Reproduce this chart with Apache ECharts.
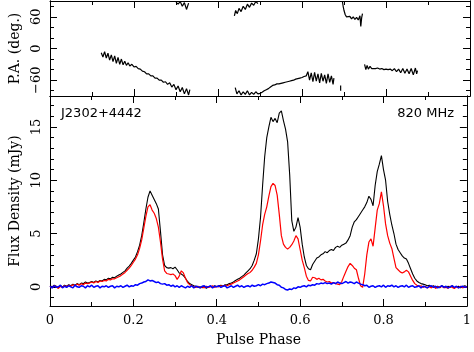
<!DOCTYPE html>
<html>
<head>
<meta charset="utf-8">
<script src="https://cdn.jsdelivr.net/npm/echarts@6/dist/echarts.min.js"></script>
<style>html,body{margin:0;padding:0;background:#fff}#c{width:474px;height:352px}</style>
</head>
<body>
<div id="c"></div>
<script>
// ---- data ----
const nBins = 200; // flux profile sampled every 0.005 in phase
const totalI = [
0.1,0.0,0.15,0.05,-0.1,0.1,0.0,0.15,0.05,0.2,0.1,0.25,0.15,0.3,0.2,0.35,0.3,0.45,0.35,0.4,
0.5,0.4,0.55,0.45,0.6,0.55,0.7,0.65,0.8,0.75,0.9,0.85,1.0,1.1,1.2,1.35,1.5,1.75,1.95,2.2,
2.5,2.8,3.3,3.9,4.8,6.0,7.3,8.4,9.0,8.6,8.2,7.8,7.3,5.2,3.0,2.0,1.8,1.75,1.8,1.7,
1.85,1.6,1.3,1.2,1.05,0.8,0.5,0.3,0.2,0.1,0.05,-0.05,0.0,-0.1,0.05,-0.15,0.0,0.05,-0.05,0.1,
0.0,0.1,0.15,0.05,0.2,0.2,0.3,0.35,0.45,0.6,0.7,0.8,0.95,1.1,1.3,1.5,1.7,2.0,2.5,3.1,
4.5,6.5,9.5,12.2,14.0,15.0,15.9,15.5,15.8,15.4,16.3,16.5,15.6,14.8,13.6,10.5,6.2,5.2,5.6,6.5,
5.6,4.0,2.8,2.0,1.7,1.6,2.1,2.4,2.7,2.8,3.0,3.1,3.3,3.2,3.4,3.5,3.4,3.7,3.8,3.7,
3.9,4.0,4.1,4.4,4.8,5.6,6.1,6.3,6.6,6.9,7.2,7.5,7.9,8.5,8.2,7.6,9.5,10.8,11.5,12.3,
11.0,10.0,8.0,6.8,5.8,5.0,4.0,3.5,3.2,2.9,2.7,2.6,2.2,1.7,1.2,0.8,0.55,0.4,0.3,0.25,
0.2,0.1,0.15,0.0,0.1,-0.05,0.05,-0.1,0.1,0.0,-0.1,0.05,-0.05,0.1,-0.1,0.0,0.05,-0.1,0.0,0.1,
0.0];
const linearL = [
0.05,-0.1,0.1,0.0,-0.15,0.05,-0.05,0.1,0.0,0.15,0.05,0.2,0.1,0.25,0.15,0.3,0.2,0.35,0.3,0.35,
0.45,0.35,0.5,0.4,0.55,0.5,0.6,0.55,0.7,0.65,0.75,0.75,0.85,0.95,1.05,1.2,1.35,1.55,1.75,2.0,
2.3,2.6,3.0,3.6,4.4,5.5,6.6,7.5,7.7,7.2,6.9,6.4,5.6,4.2,2.6,1.5,1.25,1.2,1.15,1.2,
1.05,0.7,1.0,1.5,1.3,0.8,0.4,0.2,0.1,0.0,-0.05,0.05,-0.1,0.0,-0.1,0.05,-0.05,0.0,0.1,-0.05,
0.05,0.0,0.1,0.05,0.15,0.1,0.2,0.25,0.35,0.45,0.55,0.65,0.8,0.95,1.1,1.25,1.35,1.55,1.85,2.2,
3.0,4.3,5.8,6.8,7.5,8.5,9.4,9.7,9.5,8.6,6.8,4.8,4.0,3.7,3.55,3.7,3.95,4.3,4.8,4.5,
3.5,2.5,1.8,1.0,0.6,0.55,0.9,0.85,0.7,0.8,0.65,0.7,0.55,0.45,0.5,0.35,0.4,0.3,0.25,0.2,
0.5,1.0,1.45,1.9,2.2,2.0,1.75,1.6,0.8,0.1,-0.05,1.2,3.0,4.2,4.5,3.8,5.5,7.2,7.8,8.9,
7.6,5.9,4.8,4.1,3.6,2.7,1.8,1.6,1.4,1.3,1.4,1.55,1.4,1.0,0.6,0.3,0.15,0.05,0.1,-0.05,
0.05,-0.1,0.0,-0.1,0.05,-0.15,0.0,-0.05,0.05,-0.1,0.0,-0.15,0.05,-0.05,-0.15,0.0,-0.1,0.05,-0.1,0.0,
-0.05];
const circularV = [
0.05,-0.1,0.1,-0.05,0.0,0.15,-0.1,0.05,-0.05,0.1,0.0,-0.1,0.15,0.0,-0.05,0.1,0.05,-0.1,0.1,0.0,
0.15,-0.05,0.05,0.1,-0.1,0.05,0.0,0.1,-0.05,0.05,0.1,-0.1,0.05,0.0,0.1,-0.05,0.05,0.15,0.0,0.1,
0.05,0.2,0.15,0.3,0.35,0.45,0.5,0.65,0.55,0.6,0.5,0.4,0.45,0.3,0.25,0.3,0.15,0.2,0.05,0.15,
0.0,0.1,-0.05,0.1,0.0,-0.1,0.05,-0.05,0.1,-0.1,0.05,0.0,-0.1,0.05,0.1,-0.05,0.0,0.1,-0.1,0.05,
0.0,0.1,-0.05,0.05,0.1,-0.1,0.0,0.1,-0.05,0.05,0.15,0.0,0.1,-0.05,0.05,0.1,0.0,0.15,0.05,0.1,
0.2,0.1,0.25,0.2,0.3,0.35,0.45,0.4,0.35,0.2,0.15,-0.05,-0.1,-0.25,-0.3,-0.2,-0.25,-0.1,-0.15,0.0,
-0.05,0.05,0.1,0.0,0.15,0.1,0.2,0.15,0.3,0.25,0.35,0.3,0.4,0.3,0.35,0.25,0.4,0.3,0.45,0.35,
0.3,0.4,0.5,0.35,0.45,0.4,0.3,0.45,0.35,0.25,0.2,0.1,0.15,-0.05,0.05,0.1,-0.05,0.05,0.1,0.0,
0.15,-0.05,0.1,0.05,0.15,0.0,0.1,-0.05,0.05,0.1,0.0,0.15,-0.05,0.05,0.1,-0.05,0.0,0.1,-0.1,0.05,
0.0,-0.1,0.05,0.1,-0.05,0.05,-0.1,0.0,0.1,-0.05,0.05,-0.1,0.0,0.1,-0.05,0.05,-0.1,0.0,0.05,-0.05,
0.0];

// position angle (null = gap between segments)
const paPhase = [
0.122,0.126,0.130,0.134,0.138,0.142,0.146,0.150,0.154,0.158,0.162,0.166,0.170,0.174,0.178,0.182,0.186,0.190,0.195,0.200,
0.205,0.210,0.215,0.220,0.225,0.230,0.235,0.240,0.245,0.250,0.255,0.260,0.265,0.270,0.275,0.280,0.285,0.290,0.295,0.300,
0.305,0.310,0.315,0.320,0.325,0.330,0.333, 0.333,
0.300,0.305,0.310,0.315,0.320,0.325,0.330, 0.330,
0.439,0.442,0.446,0.450,0.455,0.460,0.465,0.470,0.475,0.480,0.485,0.490,0.495, 0.495,
0.441,0.445,0.450,0.455,0.460,0.465,0.470,0.475,0.480,0.485,0.490,0.495,0.500,0.505,0.510,0.515,0.520,0.525,0.530,0.535,
0.540,0.545,0.550,0.555,0.560,0.565,0.570,0.575,0.580,0.585,0.590,0.595,0.600,0.605,0.610,0.614,0.618,0.622,0.626,0.630,
0.634,0.638,0.642,0.646,0.650,0.654,0.658,0.662,0.666,0.670,0.674,0.676, 0.676,
0.692,0.692, 0.692,
0.696,0.698,0.700,0.703,0.706,0.710,0.714,0.718,0.722,0.726,0.730,0.734,0.738,0.740,0.742,0.744, 0.744,
0.749,0.752,0.755,0.758,0.762,0.766,0.770,0.775,0.780,0.785,0.790,0.795,0.800,0.805,0.810,0.815,0.820,0.825,0.830,0.835,
0.840,0.845,0.850,0.855,0.860,0.865,0.870,0.873,0.875];
const paDeg = [
-8,-16,-6,-18,-9,-22,-12,-25,-14,-28,-17,-30,-20,-31,-24,-32,-27,-33,-30,-35,
-34,-38,-39,-43,-44,-48,-48,-52,-52,-56,-56,-60,-60,-64,-63,-68,-65,-73,-68,-78,
-71,-82,-74,-86,-76,-88,-78, null,
88,84,89,80,87,74,86, null,
62,72,66,76,70,80,74,84,78,86,82,89,85, null,
-74,-86,-80,-88,-82,-87,-80,-88,-83,-87,-82,-86,-85,-83,-80,-78,-76,-73,-70,-69,
-67,-67,-66,-65,-64,-63,-62,-61,-60,-58,-57,-56,-55,-53,-52,-44,-60,-46,-63,-45,
-62,-48,-65,-47,-62,-50,-66,-48,-64,-52,-68,-56, null,
-70,-80, null,
90,80,72,64,60,58,61,56,60,55,59,54,62,42,58,66, null,
-30,-40,-32,-39,-34,-38,-35,-38,-37,-39,-38,-40,-39,-40,-39,-42,-38,-44,-39,-46,
-38,-47,-39,-48,-38,-50,-37,-48,-42];

// tick values
const phaseTicks = [0, 0.2, 0.4, 0.6, 0.8, 1];
const paMajor = [-60, 0, 60];
const paMinor = [-80, -40, -20, 20, 40, 80];
const fluxMajor = [0, 5, 10, 15];
const fluxMinor = [-1, 1, 2, 3, 4, 6, 7, 8, 9, 11, 12, 13, 14, 16, 17];

// ---- chart ----
const serif = 'DejaVu Serif';
const fmt = v => String(v).replace('-', '\u2212');
const profilePts = arr => arr.map((v, i) => [i / nBins, v]);
const paPts = paPhase.map((p, i) => [p, paDeg[i] === null ? '-' : paDeg[i]]);

function xAx(grid, pos, labels, name) {
  return {
    type: 'value', gridIndex: grid, position: pos, min: 0, max: 1, interval: 0.2,
    axisLine: { show: true, onZero: false, lineStyle: { color: '#000', width: 1 } },
    axisTick: { show: true, inside: true, length: 7, lineStyle: { color: '#000' } },
    minorTick: { show: true, splitNumber: 2, length: 4, lineStyle: { color: '#000' } },
    splitLine: { show: false },
    axisLabel: { show: labels, color: '#000', fontFamily: serif, fontSize: 13, margin: 8, formatter: fmt },
    name: name || '', nameLocation: 'middle', nameGap: 27,
    nameTextStyle: { color: '#000', fontFamily: serif, fontSize: 14 }
  };
}
function yAx(grid, pos, min, max, ticks, len, labels, name) {
  return {
    type: 'value', gridIndex: grid, position: pos, min: min, max: max,
    axisLine: { show: true, onZero: false, lineStyle: { color: '#000', width: 1 } },
    axisTick: { show: true, inside: true, length: len, customValues: ticks, lineStyle: { color: '#000' } },
    splitLine: { show: false },
    axisLabel: { show: labels, customValues: ticks, rotate: 90, color: '#000', fontFamily: serif, fontSize: 13, margin: 7, formatter: fmt },
    name: name || '', nameLocation: 'middle', nameRotate: 90, nameGap: 28,
    nameTextStyle: { color: '#000', fontFamily: serif, fontSize: 14 }
  };
}

const chart = echarts.init(document.getElementById('c'), null, { renderer: 'canvas' });
chart.setOption({
  animation: false,
  backgroundColor: '#fff',
  grid: [
    { left: 45, right: 4, top: 1, height: 95 },
    { left: 45, right: 4, top: 96, height: 220 }
  ],
  xAxis: [
    xAx(0, 'bottom', false), xAx(0, 'top', false),
    xAx(1, 'bottom', true, 'Pulse Phase'), xAx(1, 'top', false)
  ],
  yAxis: [
    yAx(0, 'left', -90, 90, paMajor, 7, true, 'P.A. (deg.)'),
    yAx(0, 'left', -90, 90, paMinor, 4, false),
    yAx(0, 'right', -90, 90, paMajor, 7, false),
    yAx(0, 'right', -90, 90, paMinor, 4, false),
    yAx(1, 'left', -1.8, 17.9, fluxMajor, 7, true, 'Flux Density (mJy)'),
    yAx(1, 'left', -1.8, 17.9, fluxMinor, 4, false),
    yAx(1, 'right', -1.8, 17.9, fluxMajor, 7, false),
    yAx(1, 'right', -1.8, 17.9, fluxMinor, 4, false)
  ],
  graphic: [
    { type: 'text', left: 61, top: 107, style: { text: 'J2302+4442', font: '13px "DejaVu Sans"', fill: '#000' } },
    { type: 'text', right: 20, top: 107, style: { text: '820 MHz', font: '13px "DejaVu Sans"', fill: '#000' } }
  ],
  series: [
    { name: 'PA', type: 'line', xAxisIndex: 0, yAxisIndex: 0, data: paPts, symbol: 'none',
      connectNulls: false, lineStyle: { color: '#000', width: 1.2 }, silent: true },
    { name: 'I', type: 'line', xAxisIndex: 2, yAxisIndex: 4, data: profilePts(totalI), symbol: 'none',
      lineStyle: { color: '#000', width: 1.1 }, silent: true },
    { name: 'L', type: 'line', xAxisIndex: 2, yAxisIndex: 4, data: profilePts(linearL), symbol: 'none',
      lineStyle: { color: '#ff0000', width: 1.2 }, silent: true },
    { name: 'V', type: 'line', xAxisIndex: 2, yAxisIndex: 4, data: profilePts(circularV), symbol: 'none',
      lineStyle: { color: '#0000ff', width: 1.5 }, silent: true }
  ]
});
</script>
</body>
</html>
